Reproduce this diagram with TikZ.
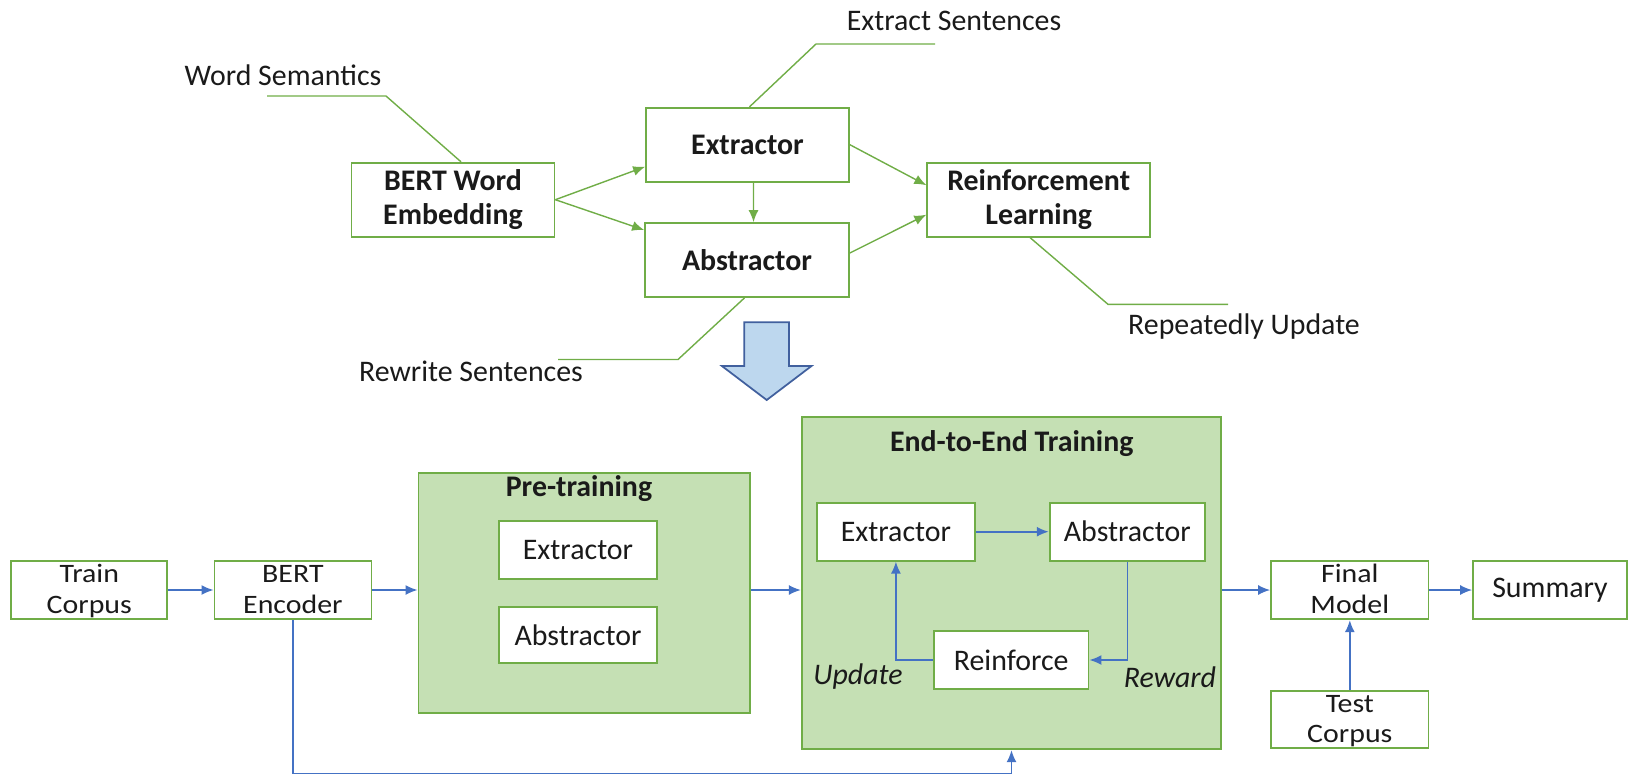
\documentclass[tikz,border=0pt]{standalone}
\usepackage{fontspec}
\usepackage{graphicx}
\setmainfont{Carlito}
\usetikzlibrary{arrows.meta,calc}
\definecolor{grn}{HTML}{70AD47}
\definecolor{lgrn}{HTML}{C5E0B4}
\definecolor{blu}{HTML}{4472C4}
\definecolor{bafill}{HTML}{BDD7EE}
\definecolor{baline}{HTML}{41609E}
\definecolor{txt}{HTML}{1A1A1A}
\newcommand{\twol}[2]{\smash{\raisebox{-4.9pt}{\scalebox{1}[0.89]{\begin{tabular}{@{}c@{}}#1\\#2\end{tabular}}}}}
\begin{document}
\begin{tikzpicture}[x=0.02cm,y=-0.02cm,
  every node/.style={font=\fontsize{17}{18}\selectfont, text=txt},
  tbox/.style={draw=grn,line width=1pt,fill=white,align=center,inner sep=0pt,font=\fontsize{17}{19}\selectfont\bfseries},
  bbox/.style={draw=grn,line width=1pt,fill=white,align=center,inner sep=0pt,font=\fontsize{17}{18}\selectfont},
  bbox2/.style={draw=grn,line width=1pt,fill=white,inner sep=0pt,font=\fontsize{17}{19.5}\selectfont},
  cont/.style={draw=grn,line width=1pt,fill=lgrn,inner sep=0pt},
  ttl/.style={inner sep=0pt,font=\fontsize{17}{19}\selectfont\bfseries},
  lead/.style={draw=grn,line width=0.8pt},
  garr/.style={draw=grn,line width=0.8pt,-{Latex[length=2.4mm,width=2mm]}},
  barr/.style={draw=blu,line width=0.9pt,-{Latex[length=2.4mm,width=2mm]}},
  lbl/.style={inner sep=0pt}]
\useasboundingbox (0,0) rectangle (1629,775);

% ---------- top part ----------
\node[tbox,minimum width=4.06cm,minimum height=1.48cm] (bwe) at (453,199.7) {BERT Word\\Embedding};
\node[tbox,minimum width=4.06cm,minimum height=1.48cm] (ext) at (747.5,144.7) {Extractor};
\node[tbox,minimum width=4.08cm,minimum height=1.48cm] (abs) at (747,260) {Abstractor};
\node[tbox,minimum width=4.46cm,minimum height=1.48cm] (rl) at (1038.7,199.7) {Reinforcement\\Learning};

\node[lbl] (ws) at (283,75) {Word Semantics};
\node[lbl] (es) at (954,21) {Extract Sentences};
\node[lbl] (rw) at (471,371) {Rewrite Sentences};
\node[lbl] (ru) at (1244,327) {Repeatedly Update};

\coordinate (ws1) at (386,96);  \coordinate (ws0) at (267,96);
\coordinate (es1) at (816,44);  \coordinate (es0) at (935,44);
\coordinate (rw1) at (678,359.5); \coordinate (rw0) at (558,359.5);
\coordinate (ru1) at (1108,304.3); \coordinate (ru0) at (1228,304.3);
\draw[lead] ([xshift=0.16cm]bwe.north) -- (ws1) -- (ws0);
\draw[lead] ([xshift=0.04cm]ext.north) -- (es1) -- (es0);
\draw[lead] ([xshift=-0.05cm]abs.south) -- (rw1) -- (rw0);
\draw[lead] ([xshift=-0.174cm]rl.south) -- (ru1) -- (ru0);

\draw[garr] (bwe.east) -- ([yshift=-0.44cm]ext.west);
\draw[garr] (bwe.east) -- ([yshift=0.6cm]abs.west);
\draw[garr] ([xshift=0.12cm]ext.south) -- ([xshift=0.13cm]abs.north);
\draw[garr] (ext.east) -- ([yshift=0.29cm]rl.west);
\draw[garr] ([yshift=0.14cm]abs.east) -- ([yshift=-0.3cm]rl.west);

% block arrow
\draw[fill=bafill,draw=baline,line width=1pt] (744.3,322.3) -- (789,322.3) -- (789,366) -- (811.5,366)
  -- (766.7,400) -- (721.9,366) -- (744.3,366) -- cycle;

% ---------- bottom part ----------
\node[cont,minimum width=6.632cm,minimum height=4.812cm] (pre) at (584.2,593) {};
\node[ttl] (pret) at (579,489) {Pre-training};
\node[bbox,minimum width=3.16cm,minimum height=1.166cm] (pext) at (578,550.2) {Extractor};
\node[bbox,minimum width=3.16cm,minimum height=1.12cm] (pabs) at (578,635.3) {Abstractor};

\node[cont,minimum width=8.392cm,minimum height=6.652cm] (e2e) at (1011.5,583) {};
\node[ttl] (e2et) at (1011.7,443.3) {End-to-End Training};
\node[bbox,minimum width=3.164cm,minimum height=1.16cm] (eext) at (895.9,531.7) {Extractor};
\node[bbox,minimum width=3.108cm,minimum height=1.16cm] (eabs) at (1127.3,531.7) {Abstractor};
\node[bbox,minimum width=3.096cm,minimum height=1.172cm] (rein) at (1011.2,660) {Reinforce};
\node[lbl,font=\fontsize{17}{18}\selectfont\itshape] (upd) at (858,677) {Update};
\node[lbl,font=\fontsize{17}{18}\selectfont\itshape] (rew) at (1170,677) {Reward};

\node[bbox2,minimum width=3.12cm,minimum height=1.172cm] (tc) at (89.3,590) {\twol{Train}{Corpus}};
\node[bbox2,minimum width=3.14cm,minimum height=1.172cm] (be) at (292.9,590) {\twol{BERT}{Encoder}};
\node[bbox2,minimum width=3.152cm,minimum height=1.172cm] (fm) at (1349.8,590) {\twol{Final}{Model}};
\node[bbox,minimum width=3.08cm,minimum height=1.172cm] (sum) at (1550,590) {Summary};
\node[bbox2,minimum width=3.152cm,minimum height=1.152cm] (tco) at (1349.8,719.5) {\twol{Test}{Corpus}};

\draw[barr] (tc.east) -- (be.west);
\draw[barr] (be.east) -- (be.east -| pre.west);
\draw[barr] (pre.east |- be.east) -- (e2e.west |- be.east);
\draw[barr] (e2e.east |- fm.west) -- (fm.west);
\draw[barr] (fm.east) -- (sum.west);
\draw[barr] (tco.north) -- (fm.south);
\draw[barr] (eext.east) -- (eabs.west);
\draw[barr] (eabs.south) |- (rein.east);
\draw[barr] (rein.west) -| (eext.south);
\coordinate (lowY) at (0,773.5);
\draw[barr] (be.south) -- (be.south |- lowY) -- (e2e.south |- lowY) -- (e2e.south);
\end{tikzpicture}
\end{document}
